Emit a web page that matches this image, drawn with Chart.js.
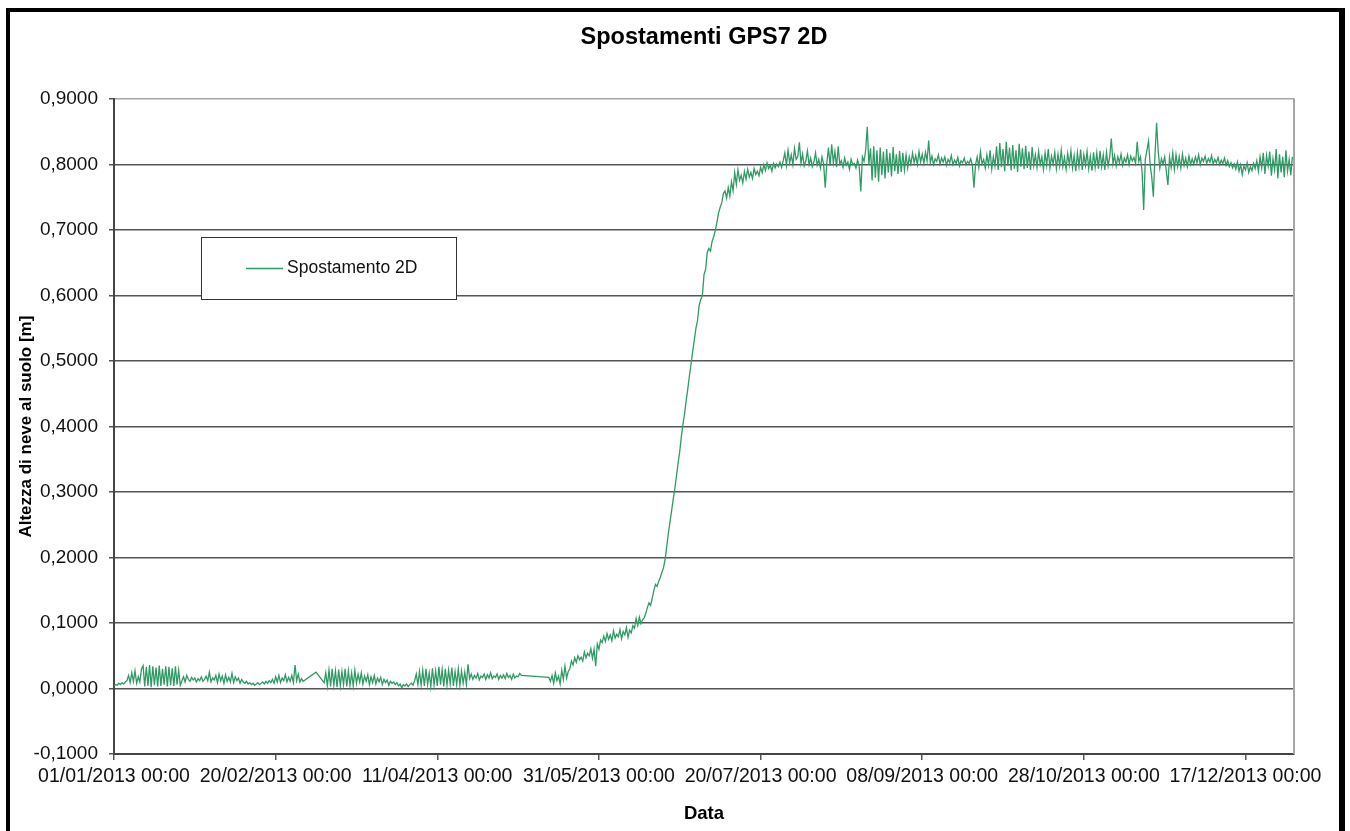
<!DOCTYPE html>
<html>
<head>
<meta charset="utf-8">
<title>Spostamenti GPS7 2D</title>
<script src="https://cdn.jsdelivr.net/npm/chart.js@4.4.1/dist/chart.umd.min.js"></script>
<style>
  html, body { margin: 0; padding: 0; background: #fff; overflow: hidden; }
  #frame { position: absolute; left: 6px; top: 8px; width: 1329px; height: 840px; border: 4px solid #000; border-right-width: 6px; }
  #chart { position: absolute; left: 0; top: 0; }
</style>
</head>
<body>
<div id="frame"></div>
<canvas id="chart" width="1350" height="831"></canvas>
<script>
// Spostamento 2D, GPS7 - two readings per day, values in metres
const seriesLabel = "Spostamento 2D";
const startDate = Date.UTC(2013, 0, 1);
const sampleStep = 0.5;
const monthStartDay = [0, 31, 59, 90, 120, 151, 181, 212, 243, 273, 304, 334];
const xTickDays = [0, 50, 100, 150, 200, 250, 300, 350];

const jan = [
  0.004, 0.006, 0.005, 0.008, 0.006, 0.009, 0.007, 0.010,
  0.012, 0.020, 0.009, 0.024, 0.011, 0.027, 0.008, 0.018, 0.010, 0.030,
  0.035, 0.003, 0.033, 0.004, 0.036, 0.002, 0.034, 0.005, 0.032, 0.003, 0.035, 0.004,
  0.030, 0.006, 0.034, 0.003, 0.033, 0.005, 0.031, 0.004, 0.034, 0.006, 0.028, 0.005,
  0.012, 0.018, 0.010, 0.020, 0.014, 0.011, 0.017, 0.013, 0.016, 0.010,
  0.015, 0.012, 0.018, 0.011, 0.014, 0.019, 0.012, 0.025, 0.010, 0.016,
];
const feb = [
  0.013, 0.020, 0.009, 0.022, 0.012, 0.019, 0.008, 0.021, 0.011,
  0.017, 0.010, 0.023, 0.009, 0.018, 0.012, 0.016, 0.008, 0.014,
  0.010, 0.008, 0.011, 0.007, 0.009, 0.006, 0.008, 0.005, 0.007,
  0.009, 0.006, 0.008, 0.010, 0.007, 0.011, 0.008, 0.012, 0.009,
  0.014, 0.008, 0.018, 0.010, 0.020, 0.009, 0.016, 0.012, 0.021, 0.010,
  0.017, 0.011, 0.020, 0.009, 0.036, 0.012, 0.022, 0.010, 0.015, 0.011,
];
const mar = [
  null, null, null, null, null, null, null, 0.025, null, null, null, null,
  0.009, 0.024, 0.004, 0.028, 0.003, 0.030, 0.005, 0.027, 0.002, 0.029,
  0.004, 0.026, 0.006, 0.030, 0.003, 0.027, 0.005, 0.024, 0.004, 0.028,
  0.008, 0.022, 0.010, 0.024, 0.007, 0.019, 0.011, 0.021, 0.006, 0.018,
  0.009, 0.020, 0.007, 0.016, 0.010, 0.017, 0.006, 0.014, 0.009, 0.013,
  0.005, 0.011, 0.008, 0.010, 0.006, 0.009, 0.004, 0.007, 0.001, 0.006,
];
const apr = [
  0.004, 0.007, 0.003, 0.006, 0.008, 0.005,
  0.012, 0.022, 0.006, 0.026, 0.005, 0.028, 0.004, 0.030, 0.006, 0.024,
  0.003, 0.031, 0.005, 0.027, 0.004, 0.033, 0.006, 0.029, 0.003, 0.030,
  0.005, 0.028, 0.007, 0.032, 0.004, 0.026, 0.006, 0.030, 0.005, 0.027,
  0.008, 0.025, 0.006, 0.037,
  0.015, 0.022, 0.014, 0.020, 0.016, 0.023, 0.013, 0.019, 0.017, 0.022,
  0.014, 0.021, 0.016, 0.024, 0.015, 0.019, 0.017, 0.022, 0.014, 0.020,
];
const may = [
  0.016, 0.021, 0.015, 0.023, 0.017, 0.020, 0.014, 0.022, 0.016, 0.019, 0.018, 0.023, 0.020,
  null, null, null, null, null, null, null, null, null, null, null, null, null, null, null, null,
  0.017,
  0.011, 0.020, 0.008, 0.024, 0.012, 0.019, 0.007, 0.028, 0.014, 0.034, 0.016, 0.026,
  0.030, 0.042, 0.036, 0.047, 0.040, 0.050, 0.044, 0.048, 0.042, 0.056,
  0.047, 0.054, 0.050, 0.061, 0.046, 0.060, 0.034, 0.068, 0.060, 0.074,
];
const jun = [
  0.070, 0.080, 0.072, 0.084, 0.075, 0.082, 0.073, 0.088, 0.077, 0.083,
  0.079, 0.090, 0.076, 0.087, 0.082, 0.093, 0.078, 0.089, 0.085, 0.096,
  0.092, 0.107, 0.096, 0.109, 0.099, 0.105,
  0.108, 0.115, 0.124, 0.131, 0.127, 0.138, 0.150, 0.159, 0.156, 0.164, 0.170, 0.178,
  0.185, 0.198, 0.218, 0.238, 0.255, 0.272, 0.290, 0.306, 0.325, 0.345, 0.362,
  0.385, 0.404, 0.420, 0.440, 0.458, 0.478, 0.496, 0.515, 0.532, 0.550, 0.562,
];
const jul = [
  0.585, 0.594, 0.600, 0.632, 0.640, 0.666, 0.672, 0.668, 0.683,
  0.690, 0.700, 0.712, 0.726, 0.735, 0.742, 0.756, 0.760, 0.749,
  0.765, 0.752, 0.774, 0.760, 0.788, 0.770, 0.792, 0.776, 0.784, 0.772,
  0.790, 0.778, 0.793, 0.781, 0.788, 0.779, 0.794, 0.785, 0.790, 0.783,
  0.796, 0.788, 0.800, 0.791, 0.803, 0.794, 0.799, 0.790, 0.802, 0.795, 0.801, 0.797, 0.804, 0.796,
  0.806, 0.818, 0.799, 0.822, 0.803, 0.815, 0.800, 0.825, 0.808, 0.812,
];
const aug = [
  0.834, 0.802, 0.816, 0.798, 0.806, 0.821, 0.800, 0.810,
  0.797, 0.804, 0.818, 0.799, 0.808, 0.795, 0.812, 0.801,
  0.765, 0.803,
  0.826, 0.798, 0.831, 0.803, 0.820, 0.796, 0.828, 0.801,
  0.806, 0.796, 0.810, 0.799, 0.804, 0.793, 0.808, 0.800, 0.802, 0.795, 0.807, 0.798,
  0.759, 0.812, 0.805, 0.822, 0.858, 0.800,
  0.825, 0.776, 0.828, 0.780, 0.822, 0.774, 0.826, 0.784, 0.820,
  0.779, 0.824, 0.788, 0.818, 0.782, 0.827, 0.790, 0.816, 0.786,
];
const sep = [
  0.821, 0.789, 0.818, 0.792, 0.815, 0.795,
  0.812, 0.801, 0.818, 0.803, 0.814, 0.800, 0.820, 0.804, 0.816, 0.802, 0.819, 0.806,
  0.837, 0.803, 0.813, 0.800, 0.809, 0.805, 0.815, 0.801, 0.810, 0.804, 0.812, 0.799, 0.808, 0.803,
  0.814, 0.800, 0.807, 0.802, 0.811, 0.798, 0.806, 0.803, 0.810, 0.800, 0.805, 0.802, 0.809, 0.799,
  0.765, 0.800, 0.812, 0.796, 0.820, 0.801, 0.808, 0.795, 0.815, 0.799, 0.822, 0.793, 0.812, 0.798,
];
const oct = [
  0.828, 0.792, 0.833, 0.796, 0.824, 0.790, 0.835, 0.798, 0.826, 0.791, 0.830, 0.794,
  0.822, 0.789, 0.832, 0.797, 0.825, 0.793, 0.829, 0.795, 0.820, 0.792, 0.827, 0.799,
  0.815, 0.796, 0.820, 0.800, 0.812, 0.793, 0.818, 0.799, 0.824, 0.795, 0.813, 0.801, 0.819,
  0.794, 0.816, 0.798, 0.822, 0.797, 0.811, 0.793, 0.817, 0.800, 0.821, 0.795, 0.814,
  0.790, 0.818, 0.797, 0.823, 0.792, 0.815, 0.799, 0.820, 0.794, 0.813, 0.791, 0.819, 0.796,
];
const nov = [
  0.818, 0.794, 0.821, 0.797, 0.815, 0.792, 0.819, 0.798, 0.812,
  0.840,
  0.801, 0.814, 0.798, 0.812, 0.803, 0.816, 0.799, 0.810, 0.804, 0.815, 0.800, 0.813, 0.806, 0.811, 0.802,
  0.835, 0.805, 0.812, 0.790, 0.731, 0.808, 0.822, 0.836, 0.800, 0.781, 0.751,
  0.815, 0.864, 0.820, 0.795, 0.809, 0.801, 0.812, 0.790, 0.769, 0.812, 0.796,
  0.818, 0.793, 0.815, 0.797, 0.812, 0.795, 0.816, 0.799, 0.810, 0.797, 0.813, 0.800, 0.809,
];
const dec = [
  0.801, 0.812, 0.803, 0.815, 0.800, 0.810, 0.805, 0.813, 0.802, 0.809,
  0.804, 0.814, 0.801, 0.808, 0.803, 0.811, 0.800, 0.807, 0.802, 0.810,
  0.799, 0.806, 0.797, 0.803, 0.795, 0.801, 0.793, 0.804, 0.790, 0.800,
  0.785, 0.798, 0.792, 0.803, 0.788, 0.797, 0.791, 0.802, 0.794,
  0.806, 0.790, 0.812, 0.795, 0.818, 0.786, 0.814, 0.798, 0.820, 0.783, 0.809, 0.792,
  0.824, 0.779, 0.816, 0.788, 0.812, 0.781, 0.822, 0.790, 0.808, 0.784, 0.812,
];

const months = [jan, feb, mar, apr, may, jun, jul, aug, sep, oct, nov, dec];
const points = [];
months.forEach((vals, m) => {
  vals.forEach((v, i) => points.push({ x: monthStartDay[m] + i * sampleStep, y: v }));
});

function fmtDate(days) {
  const d = new Date(startDate + days * 86400000);
  const p = (n) => String(n).padStart(2, "0");
  return `${p(d.getUTCDate())}/${p(d.getUTCMonth() + 1)}/${d.getUTCFullYear()} 00:00`;
}

// legend in a box inside the plot, like the Excel original
const boxLegend = {
  id: "boxLegend",
  afterDraw(chart) {
    const { ctx } = chart;
    const ds = chart.data.datasets[0];
    ctx.save();
    ctx.fillStyle = "#fff";
    ctx.fillRect(201, 237, 256, 63);
    ctx.strokeStyle = "#333";
    ctx.lineWidth = 1;
    ctx.strokeRect(201.5, 237.5, 255, 62);
    ctx.strokeStyle = ds.borderColor;
    ctx.lineWidth = 1.5;
    ctx.beginPath();
    ctx.moveTo(246, 268.5);
    ctx.lineTo(283, 268.5);
    ctx.stroke();
    ctx.fillStyle = "#111";
    ctx.font = "17.5px 'Liberation Sans', Arial, sans-serif";
    ctx.textBaseline = "middle";
    ctx.fillText(ds.label, 287, 268);
    ctx.restore();
  },
};

// grey right edge of the plot area
const plotFrame = {
  id: "plotFrame",
  afterDatasetsDraw(chart) {
    const { ctx, chartArea: a } = chart;
    ctx.save();
    ctx.strokeStyle = "#a6a6a6";
    ctx.lineWidth = 2;
    ctx.beginPath();
    ctx.moveTo(a.right, a.top - 1);
    ctx.lineTo(a.right, a.bottom);
    ctx.stroke();
    ctx.restore();
  },
};

Chart.defaults.font.family = "'Liberation Sans', Arial, sans-serif";
Chart.defaults.color = "#111";

new Chart(document.getElementById("chart"), {
  type: "line",
  data: {
    datasets: [
      {
        label: seriesLabel,
        data: points,
        borderColor: "#2f9a64",
        backgroundColor: "#2f9a64",
        borderWidth: 1.3,
        pointRadius: 0,
        tension: 0,
        spanGaps: true,
        fill: false,
      },
    ],
  },
  options: {
    responsive: false,
    animation: false,
    layout: { padding: { left: 0, right: 56, top: 0, bottom: 0 } },
    scales: {
      x: {
        type: "linear",
        min: 0,
        max: 365,
        afterBuildTicks: (scale) => {
          scale.ticks = xTickDays.map((v) => ({ value: v }));
        },
        afterFit: (scale) => {
          scale.height = 77;
        },
        ticks: {
          autoSkip: false,
          maxRotation: 0,
          padding: 5,
          font: { size: 19.5 },
          callback: (v) => fmtDate(v),
        },
        grid: { drawOnChartArea: false, tickLength: 6, color: "#555", lineWidth: 1.5 },
        border: { color: "#444", width: 2 },
        title: {
          display: true,
          text: "Data",
          color: "#000",
          font: { size: 18.5, weight: "bold" },
          padding: { top: 0, bottom: 6 },
        },
      },
      y: {
        min: -0.1,
        max: 0.9,
        afterFit: (scale) => {
          scale.width = 114;
        },
        ticks: {
          stepSize: 0.1,
          padding: 11,
          font: { size: 19 },
          callback: (v) => (Math.abs(v) < 1e-9 ? 0 : v).toFixed(4).replace(".", ","),
        },
        grid: {
          color: (c) => (c.tick && c.tick.value > 0.85 ? "#a6a6a6" : "#555"),
          tickColor: "#555",
          lineWidth: 1.5,
          tickLength: 5,
        },
        border: { color: "#444", width: 2 },
        title: {
          display: true,
          text: "Altezza di neve al suolo [m]",
          color: "#000",
          font: { size: 17, weight: "bold" },
          padding: { top: 16, bottom: 0 },
        },
      },
    },
    plugins: {
      legend: { display: false },
      tooltip: { enabled: false },
      title: {
        display: true,
        text: "Spostamenti GPS7 2D",
        fullSize: false,
        color: "#000",
        font: { size: 23.5, weight: "bold" },
        padding: { top: 23, bottom: 48 },
      },
    },
  },
  plugins: [boxLegend, plotFrame],
});
</script>
</body>
</html>
